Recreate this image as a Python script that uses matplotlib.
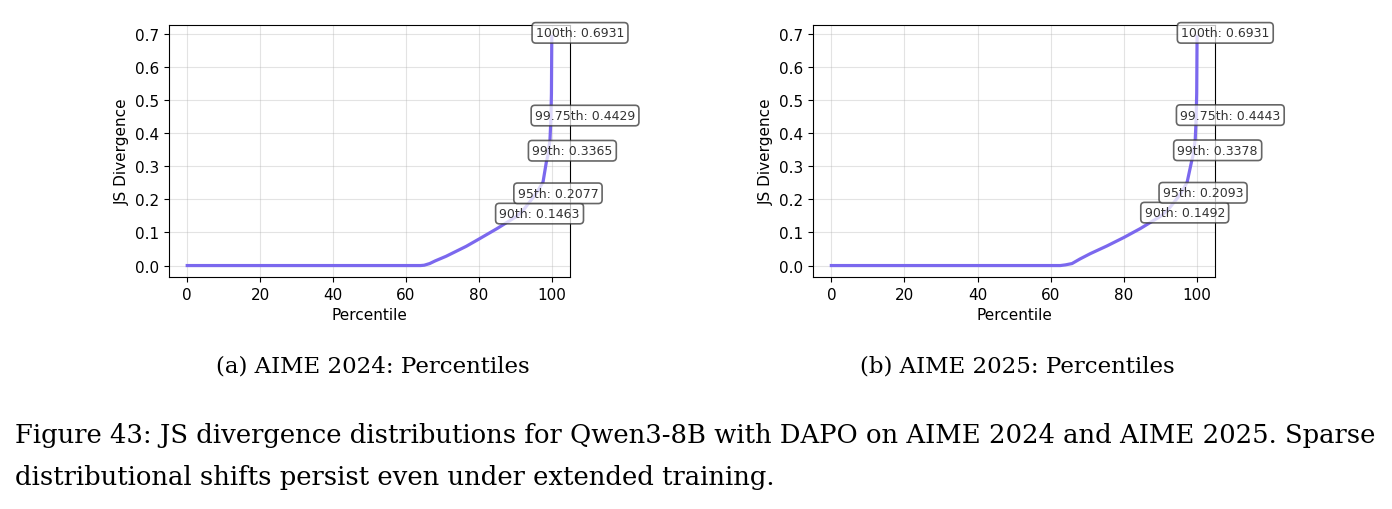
import numpy as np
import matplotlib.pyplot as plt

plt.rcParams['font.family'] = ['DejaVu Sans']

# %% Data
pct_2024 = [0, 20, 40, 60, 64, 65, 66.5, 68, 71, 76.5, 80, 85, 90, 92, 95, 96.5, 97.6, 98.5, 99, 99.5, 99.75, 99.9, 100]
js_2024 = [0, 0, 0, 0, 0, 0.001, 0.006, 0.014, 0.028, 0.058, 0.080, 0.112, 0.1463, 0.165, 0.2077, 0.232, 0.253, 0.313, 0.3365, 0.380, 0.4429, 0.520, 0.6931]

pct_2025 = [0, 20, 40, 60, 62.6, 64, 65.8, 68, 70.8, 75.3, 80, 84.5, 90, 92, 95, 96.5, 97.3, 98.5, 99, 99.5, 99.75, 99.9, 100]
js_2025 = [0, 0, 0, 0, 0, 0.002, 0.006, 0.020, 0.036, 0.059, 0.085, 0.112, 0.1492, 0.168, 0.2093, 0.236, 0.253, 0.315, 0.3378, 0.382, 0.4443, 0.522, 0.6931]

marks = [90, 95, 99, 99.75, 100]
mark_labels = ['90th', '95th', '99th', '99.75th', '100th']
mark_vals_2024 = [0.1463, 0.2077, 0.3365, 0.4429, 0.6931]
mark_vals_2025 = [0.1492, 0.2093, 0.3378, 0.4443, 0.6931]

subcaptions = ['(a) AIME 2024: Percentiles', '(b) AIME 2025: Percentiles']
caption1 = ('Figure 43: JS divergence distributions for Qwen3-8B with DAPO on '
            'AIME 2024 and AIME 2025. Sparse')
caption2 = 'distributional shifts persist even under extended training.'

# %% Figure
fig = plt.figure(figsize=(13.92, 5.10), dpi=100)
ax1 = fig.add_axes([0.1214, 0.4549, 0.2881, 0.4941])
ax2 = fig.add_axes([0.5841, 0.4549, 0.2890, 0.4941])

panels = [(ax1, pct_2024, js_2024, mark_vals_2024),
          (ax2, pct_2025, js_2025, mark_vals_2025)]

for ax, p, v, mv in panels:
    ax.plot(p, v, color='#7B68EE', linewidth=2.3)
    ax.grid(True, color='#b0b0b0', alpha=0.35, linewidth=0.8)
    ax.set_xlabel('Percentile', fontsize=11)
    ax.set_ylabel('JS Divergence', fontsize=11)
    ax.tick_params(labelsize=11)
    ax.set_xticks([0, 20, 40, 60, 80, 100])
    ax.set_yticks([0.0, 0.1, 0.2, 0.3, 0.4, 0.5, 0.6, 0.7])
    for m, lab, val in zip(marks, mark_labels, mv):
        ax.annotate(f'{lab}: {val:.4f}', xy=(m, val), xytext=(-11.5, 2.6),
                    textcoords='offset points', ha='left', va='center',
                    fontsize=9, color='#333333', annotation_clip=False,
                    bbox=dict(boxstyle='round,pad=0.3', fc='white',
                              ec='#333333', alpha=0.75, lw=1.2))

serif = ['DejaVu Serif']
fig.text(373/1392, 1 - 367/510, subcaptions[0], ha='center', va='center',
         fontsize=16.5, family=serif)
fig.text(1017/1392, 1 - 367/510, subcaptions[1], ha='center', va='center',
         fontsize=16.5, family=serif)
fig.text(15/1392, 1 - 436/510, caption1, ha='left', va='center',
         fontsize=18.6, family=serif)
fig.text(15/1392, 1 - 478/510, caption2, ha='left', va='center',
         fontsize=18.6, family=serif)

fig.savefig('out.png', dpi=100)
